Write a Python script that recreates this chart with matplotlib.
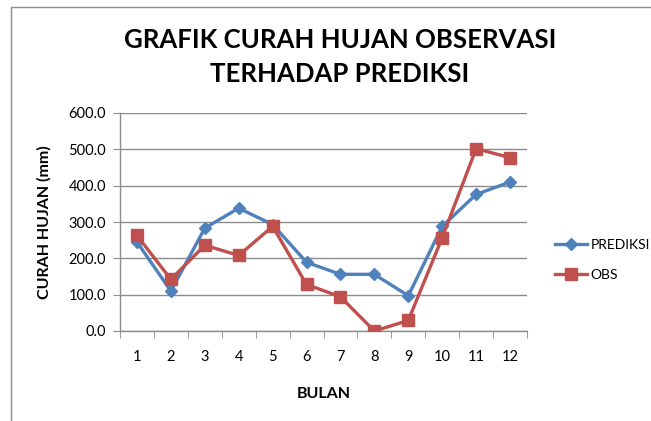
import matplotlib.pyplot as plt
from matplotlib.lines import Line2D
from matplotlib.patches import Rectangle
import numpy as np

bulan = [1, 2, 3, 4, 5, 6, 7, 8, 9, 10, 11, 12]
prediksi = [245, 110, 283, 338, 293, 189, 156, 156, 97, 288, 376, 410]
obs = [263, 142, 236, 208, 288, 128, 94, 0, 29, 257, 502, 477]
yticks = [0, 100, 200, 300, 400, 500, 600]

BLUE = "#4F81BD"
RED = "#C0504D"
GRID = "#8c8c8c"

plt.rcParams['font.family'] = ['Lato', 'DejaVu Sans']

fig = plt.figure(figsize=(6.51, 4.21), dpi=100)
ax = fig.add_axes([120 / 651, 1 - 331 / 421, (527 - 120) / 651, (331 - 113) / 421])

x = np.arange(len(bulan))
ax.plot(x, prediksi, color=BLUE, lw=2.4, marker='D', ms=6.5, label='PREDIKSI', zorder=3)
ax.plot(x, obs, color=RED, lw=2.4, marker='s', ms=8, label='OBS', zorder=4)

ax.set_xlim(-0.5, len(bulan) - 0.5)
ax.set_ylim(0, 600)
ax.set_yticks(yticks)
ax.set_yticklabels([f"{v:.1f}" for v in yticks], fontsize=10.5)
ax.set_xticks(x)
ax.set_xticklabels([str(b) for b in bulan], fontsize=10.5)
ax.set_xticks(np.arange(-0.5, len(bulan), 1), minor=True)
ax.tick_params(axis='x', which='major', length=0, pad=14)
ax.tick_params(axis='x', which='minor', length=5, color=GRID, direction='out')
ax.tick_params(axis='y', length=5, color=GRID, direction='out', pad=5)
ax.grid(True, axis='y', color=GRID, lw=1)
for s in ['top', 'right']:
    ax.spines[s].set_visible(False)
for s in ['left', 'bottom']:
    ax.spines[s].set_color(GRID)
    ax.spines[s].set_linewidth(1)
ax.spines['left'].set_zorder(0)

ax.set_xlabel("BULAN", fontsize=11.5, fontweight='bold', labelpad=16)
ax.set_ylabel("CURAH HUJAN (mm)", fontsize=11.5, fontweight='bold', labelpad=12)

fig.text(340 / 651, 1 - 57 / 421, "GRAFIK CURAH HUJAN OBSERVASI\nTERHADAP PREDIKSI",
         ha='center', va='center', fontsize=18.5, fontweight='bold', linespacing=1.45)

fig.legend(handles=[Line2D([], [], color=BLUE, lw=2.4, marker='D', ms=6.5),
                    Line2D([], [], color=RED, lw=2.4, marker='s', ms=8)],
           labels=['PREDIKSI', 'OBS'], loc='center left',
           bbox_to_anchor=(549 / 651, 1 - 260 / 421), frameon=False, fontsize=10,
           handlelength=2.3, handletextpad=0.3, labelspacing=1.3, borderaxespad=0)

# chart frame
fig.patches.append(Rectangle((11 / 651, -0.1), 1.2, 1 - 7 / 421 + 0.1, transform=fig.transFigure,
                             fill=False, edgecolor='#8c8c8c', lw=1))

fig.savefig("out.png", dpi=100)
